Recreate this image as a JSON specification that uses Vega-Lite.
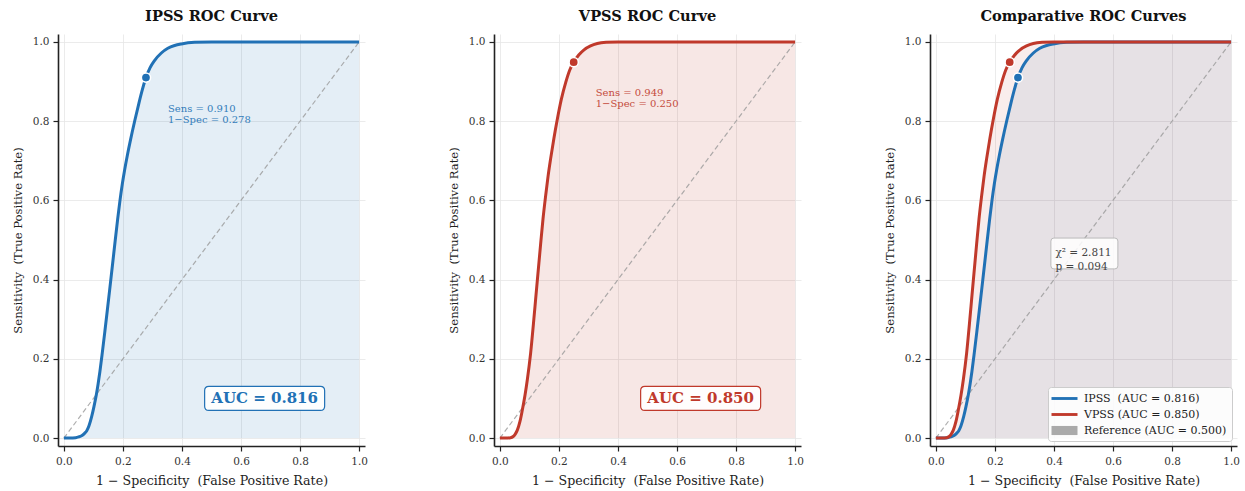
{
  "$schema": "https://vega.github.io/schema/vega-lite/v6.json",
  "background": "white",
  "padding": {"left": 12, "top": 9, "right": 2, "bottom": 0},
  "spacing": 80,
  "resolve": {"legend": {"color": "independent", "shape": "independent"}},
  "config": {
    "font": "DejaVu Serif",
    "view": {"stroke": null},
    "title": {"font": "DejaVu Serif", "fontSize": 14.6, "fontWeight": "bold", "color": "#111111", "offset": 10, "anchor": "middle"},
    "axis": {
      "grid": true, "gridColor": "#e6e6e6", "gridWidth": 0.8,
      "domainColor": "#222222", "domainWidth": 1.6,
      "tickColor": "#222222", "tickWidth": 1.2, "tickSize": 5,
      "labelFont": "DejaVu Serif", "labelFontSize": 10.5, "labelColor": "#333333", "labelPadding": 4,
      "titleFont": "DejaVu Serif", "titleFontWeight": "normal", "titleColor": "#222222"
    },
    "axisX": {"titlePadding": 8, "labelPadding": 5, "titleFontSize": 12.6},
    "axisY": {"titlePadding": 9, "titleFontSize": 11.6},
    "legend": {
      "orient": "bottom-right", "offset": 5, "padding": 5,
      "fillColor": "rgba(255,255,255,0.88)", "strokeColor": "#cccccc", "cornerRadius": 3,
      "labelFont": "DejaVu Serif", "labelFontSize": 11, "labelColor": "#222222",
      "rowPadding": 4, "symbolStrokeWidth": 0, "symbolSize": 169, "symbolOffset": 5, "labelOffset": 13
    }
  },
  "datasets": {
    "ipss": [
      {"fpr": 0, "tpr": 0}, {"fpr": 0.02, "tpr": 0}, {"fpr": 0.04, "tpr": 0.001}, {"fpr": 0.05, "tpr": 0.003},
      {"fpr": 0.06, "tpr": 0.006}, {"fpr": 0.07, "tpr": 0.012}, {"fpr": 0.077, "tpr": 0.018}, {"fpr": 0.085, "tpr": 0.031},
      {"fpr": 0.094, "tpr": 0.054}, {"fpr": 0.102, "tpr": 0.08}, {"fpr": 0.11, "tpr": 0.11}, {"fpr": 0.116, "tpr": 0.137},
      {"fpr": 0.122, "tpr": 0.168}, {"fpr": 0.13, "tpr": 0.215}, {"fpr": 0.139, "tpr": 0.271}, {"fpr": 0.147, "tpr": 0.322},
      {"fpr": 0.155, "tpr": 0.374}, {"fpr": 0.165, "tpr": 0.44}, {"fpr": 0.174, "tpr": 0.5}, {"fpr": 0.182, "tpr": 0.552},
      {"fpr": 0.19, "tpr": 0.6}, {"fpr": 0.198, "tpr": 0.642}, {"fpr": 0.206, "tpr": 0.678}, {"fpr": 0.215, "tpr": 0.714},
      {"fpr": 0.226, "tpr": 0.754}, {"fpr": 0.24, "tpr": 0.801}, {"fpr": 0.254, "tpr": 0.845}, {"fpr": 0.266, "tpr": 0.88},
      {"fpr": 0.278, "tpr": 0.91}, {"fpr": 0.292, "tpr": 0.935}, {"fpr": 0.307, "tpr": 0.953}, {"fpr": 0.33, "tpr": 0.972},
      {"fpr": 0.352, "tpr": 0.984}, {"fpr": 0.375, "tpr": 0.991}, {"fpr": 0.398, "tpr": 0.995}, {"fpr": 0.443, "tpr": 0.999},
      {"fpr": 0.5, "tpr": 1.0}, {"fpr": 0.6, "tpr": 1.0}, {"fpr": 0.8, "tpr": 1.0}, {"fpr": 1.0, "tpr": 1.0}
    ],
    "vpss": [
      {"fpr": 0, "tpr": 0}, {"fpr": 0.02, "tpr": 0}, {"fpr": 0.036, "tpr": 0.001}, {"fpr": 0.045, "tpr": 0.004},
      {"fpr": 0.052, "tpr": 0.01}, {"fpr": 0.059, "tpr": 0.02}, {"fpr": 0.068, "tpr": 0.042}, {"fpr": 0.076, "tpr": 0.071},
      {"fpr": 0.085, "tpr": 0.108}, {"fpr": 0.093, "tpr": 0.148}, {"fpr": 0.104, "tpr": 0.214}, {"fpr": 0.115, "tpr": 0.3},
      {"fpr": 0.121, "tpr": 0.35}, {"fpr": 0.127, "tpr": 0.4}, {"fpr": 0.138, "tpr": 0.49}, {"fpr": 0.146, "tpr": 0.553},
      {"fpr": 0.155, "tpr": 0.612}, {"fpr": 0.163, "tpr": 0.66}, {"fpr": 0.172, "tpr": 0.706}, {"fpr": 0.183, "tpr": 0.757},
      {"fpr": 0.194, "tpr": 0.803}, {"fpr": 0.208, "tpr": 0.855}, {"fpr": 0.223, "tpr": 0.898}, {"fpr": 0.236, "tpr": 0.928},
      {"fpr": 0.25, "tpr": 0.949}, {"fpr": 0.267, "tpr": 0.967}, {"fpr": 0.285, "tpr": 0.98}, {"fpr": 0.307, "tpr": 0.99},
      {"fpr": 0.33, "tpr": 0.996}, {"fpr": 0.36, "tpr": 0.999}, {"fpr": 0.4, "tpr": 1.0}, {"fpr": 0.6, "tpr": 1.0},
      {"fpr": 0.8, "tpr": 1.0}, {"fpr": 1.0, "tpr": 1.0}
    ],
    "diag": [{"fpr": 0, "tpr": 0}, {"fpr": 1, "tpr": 1}],
    "ipssPoint": [{"fpr": 0.278, "tpr": 0.91, "label": "Sens = 0.910\n1−Spec = 0.278"}],
    "vpssPoint": [{"fpr": 0.25, "tpr": 0.949, "label": "Sens = 0.949\n1−Spec = 0.250"}],
    "ipssAuc": [{"fpr": 0.68, "tpr": 0.1, "label": "AUC = 0.816"}],
    "vpssAuc": [{"fpr": 0.68, "tpr": 0.1, "label": "AUC = 0.850"}],
    "stat": [{"fpr": 0.503, "tpr": 0.466, "label": "χ² = 2.811\np = 0.094"}],
    "legend": [
      {"series": "IPSS\u00a0 (AUC = 0.816)", "fpr": null, "tpr": null},
      {"series": "VPSS (AUC = 0.850)", "fpr": null, "tpr": null},
      {"series": "Reference (AUC = 0.500)", "fpr": null, "tpr": null}
    ]
  },
  "hconcat": [
    {
      "width": 307, "height": 412,
      "title": "IPSS ROC Curve",
      "encoding": {
        "x": {"field": "fpr", "type": "quantitative", "scale": {"domain": [-0.02, 1.02], "nice": false, "zero": false},
              "axis": {"title": "1 − Specificity\u00a0 (False Positive Rate)", "values": [0, 0.2, 0.4, 0.6, 0.8, 1], "format": ".1f"}},
        "y": {"field": "tpr", "type": "quantitative", "scale": {"domain": [-0.02, 1.02], "nice": false, "zero": false},
              "axis": {"title": "Sensitivity\u00a0 (True Positive Rate)", "values": [0, 0.2, 0.4, 0.6, 0.8, 1], "format": ".1f"}}
      },
      "layer": [
        {"data": {"name": "ipss"}, "mark": {"type": "area", "color": "#2171b5", "opacity": 0.12, "interpolate": "monotone"}, "encoding": {"y2": {"datum": 0}}},
        {"data": {"name": "diag"}, "mark": {"type": "line", "color": "#999999", "strokeDash": [5, 3], "strokeWidth": 1.2, "opacity": 0.8}, "encoding": {}},
        {"data": {"name": "ipss"}, "mark": {"type": "line", "color": "#2171b5", "strokeWidth": 3, "interpolate": "monotone"}, "encoding": {}},
        {"data": {"name": "ipssPoint"}, "mark": {"type": "point", "shape": "circle", "filled": true, "fill": "#2171b5", "fillOpacity": 1, "stroke": "white", "strokeWidth": 1.5, "size": 85, "opacity": 1}},
        {"data": {"name": "ipssPoint"}, "mark": {"type": "text", "align": "left", "baseline": "middle", "dx": 22, "dy": 31, "fontSize": 10, "color": "#2171b5", "opacity": 0.9, "lineBreak": "\n", "lineHeight": 11}, "encoding": {"text": {"field": "label"}}},
        {"data": {"name": "ipssAuc"}, "mark": {"type": "point", "filled": true, "fill": "white", "fillOpacity": 0.9, "stroke": "#2171b5", "strokeWidth": 1.2, "opacity": 1, "size": 14400,
          "shape": "M -0.93 -0.2 L 0.93 -0.2 Q 1 -0.2 1 -0.13 L 1 0.13 Q 1 0.2 0.93 0.2 L -0.93 0.2 Q -1 0.2 -1 0.13 L -1 -0.13 Q -1 -0.2 -0.93 -0.2 Z"}},
        {"data": {"name": "ipssAuc"}, "mark": {"type": "text", "align": "center", "baseline": "middle", "fontSize": 15, "fontWeight": "bold", "color": "#2171b5"}, "encoding": {"text": {"field": "label"}}}
      ]
    },
    {
      "width": 307, "height": 412,
      "title": "VPSS ROC Curve",
      "encoding": {
        "x": {"field": "fpr", "type": "quantitative", "scale": {"domain": [-0.02, 1.02], "nice": false, "zero": false},
              "axis": {"title": "1 − Specificity\u00a0 (False Positive Rate)", "values": [0, 0.2, 0.4, 0.6, 0.8, 1], "format": ".1f"}},
        "y": {"field": "tpr", "type": "quantitative", "scale": {"domain": [-0.02, 1.02], "nice": false, "zero": false},
              "axis": {"title": "Sensitivity\u00a0 (True Positive Rate)", "values": [0, 0.2, 0.4, 0.6, 0.8, 1], "format": ".1f"}}
      },
      "layer": [
        {"data": {"name": "vpss"}, "mark": {"type": "area", "color": "#c0392b", "opacity": 0.12, "interpolate": "monotone"}, "encoding": {"y2": {"datum": 0}}},
        {"data": {"name": "diag"}, "mark": {"type": "line", "color": "#999999", "strokeDash": [5, 3], "strokeWidth": 1.2, "opacity": 0.8}, "encoding": {}},
        {"data": {"name": "vpss"}, "mark": {"type": "line", "color": "#c0392b", "strokeWidth": 3, "interpolate": "monotone"}, "encoding": {}},
        {"data": {"name": "vpssPoint"}, "mark": {"type": "point", "shape": "circle", "filled": true, "fill": "#c0392b", "fillOpacity": 1, "stroke": "white", "strokeWidth": 1.5, "size": 85, "opacity": 1}},
        {"data": {"name": "vpssPoint"}, "mark": {"type": "text", "align": "left", "baseline": "middle", "dx": 22, "dy": 31, "fontSize": 10, "color": "#c0392b", "opacity": 0.9, "lineBreak": "\n", "lineHeight": 11}, "encoding": {"text": {"field": "label"}}},
        {"data": {"name": "vpssAuc"}, "mark": {"type": "point", "filled": true, "fill": "white", "fillOpacity": 0.9, "stroke": "#c0392b", "strokeWidth": 1.2, "opacity": 1, "size": 14400,
          "shape": "M -0.93 -0.2 L 0.93 -0.2 Q 1 -0.2 1 -0.13 L 1 0.13 Q 1 0.2 0.93 0.2 L -0.93 0.2 Q -1 0.2 -1 0.13 L -1 -0.13 Q -1 -0.2 -0.93 -0.2 Z"}},
        {"data": {"name": "vpssAuc"}, "mark": {"type": "text", "align": "center", "baseline": "middle", "fontSize": 15, "fontWeight": "bold", "color": "#c0392b"}, "encoding": {"text": {"field": "label"}}}
      ]
    },
    {
      "width": 307, "height": 412,
      "title": "Comparative ROC Curves",
      "encoding": {
        "x": {"field": "fpr", "type": "quantitative", "scale": {"domain": [-0.02, 1.02], "nice": false, "zero": false},
              "axis": {"title": "1 − Specificity\u00a0 (False Positive Rate)", "values": [0, 0.2, 0.4, 0.6, 0.8, 1], "format": ".1f"}},
        "y": {"field": "tpr", "type": "quantitative", "scale": {"domain": [-0.02, 1.02], "nice": false, "zero": false},
              "axis": {"title": "Sensitivity\u00a0 (True Positive Rate)", "values": [0, 0.2, 0.4, 0.6, 0.8, 1], "format": ".1f"}}
      },
      "layer": [
        {"data": {"name": "ipss"}, "mark": {"type": "area", "color": "#2171b5", "opacity": 0.09, "interpolate": "monotone"}, "encoding": {"y2": {"datum": 0}}},
        {"data": {"name": "vpss"}, "mark": {"type": "area", "color": "#c0392b", "opacity": 0.09, "interpolate": "monotone"}, "encoding": {"y2": {"datum": 0}}},
        {"data": {"name": "diag"}, "mark": {"type": "line", "color": "#999999", "strokeDash": [5, 3], "strokeWidth": 1.2, "opacity": 0.8}, "encoding": {}},
        {"data": {"name": "ipss"}, "mark": {"type": "line", "color": "#2171b5", "strokeWidth": 3, "interpolate": "monotone"}, "encoding": {}},
        {"data": {"name": "vpss"}, "mark": {"type": "line", "color": "#c0392b", "strokeWidth": 3, "interpolate": "monotone"}, "encoding": {}},
        {"data": {"name": "ipssPoint"}, "mark": {"type": "point", "shape": "circle", "filled": true, "fill": "#2171b5", "fillOpacity": 1, "stroke": "white", "strokeWidth": 1.5, "size": 85, "opacity": 1}},
        {"data": {"name": "vpssPoint"}, "mark": {"type": "point", "shape": "circle", "filled": true, "fill": "#c0392b", "fillOpacity": 1, "stroke": "white", "strokeWidth": 1.5, "size": 85, "opacity": 1}},
        {"data": {"name": "stat"}, "mark": {"type": "point", "filled": true, "fill": "white", "fillOpacity": 0.85, "stroke": "#bbbbbb", "strokeWidth": 1, "opacity": 1, "size": 4489,
          "shape": "M -0.91 -0.46 L 0.91 -0.46 Q 1 -0.46 1 -0.37 L 1 0.37 Q 1 0.46 0.91 0.46 L -0.91 0.46 Q -1 0.46 -1 0.37 L -1 -0.37 Q -1 -0.46 -0.91 -0.46 Z"}},
        {"data": {"name": "stat"}, "mark": {"type": "text", "align": "left", "baseline": "middle", "dx": -29, "fontSize": 10.5, "color": "#444444", "lineBreak": "\n", "lineHeight": 13.5}, "encoding": {"text": {"field": "label"}}},
        {"data": {"name": "legend"}, "mark": {"type": "point", "filled": true, "opacity": 1},
          "encoding": {
            "color": {"field": "series", "type": "nominal",
                      "scale": {"domain": ["IPSS\u00a0 (AUC = 0.816)", "VPSS (AUC = 0.850)", "Reference (AUC = 0.500)"], "range": ["#2171b5", "#c0392b", "#aaaaaa"]},
                      "legend": {"title": null}},
            "shape": {"field": "series", "type": "nominal",
                      "scale": {"domain": ["IPSS\u00a0 (AUC = 0.816)", "VPSS (AUC = 0.850)", "Reference (AUC = 0.500)"],
                                "range": ["M -2 -0.22 L 2 -0.22 L 2 0.22 L -2 0.22 Z", "M -2 -0.22 L 2 -0.22 L 2 0.22 L -2 0.22 Z", "M -2 -0.7 L 2 -0.7 L 2 0.7 L -2 0.7 Z"]},
                      "legend": {"title": null}}
          }}
      ]
    }
  ]
}
